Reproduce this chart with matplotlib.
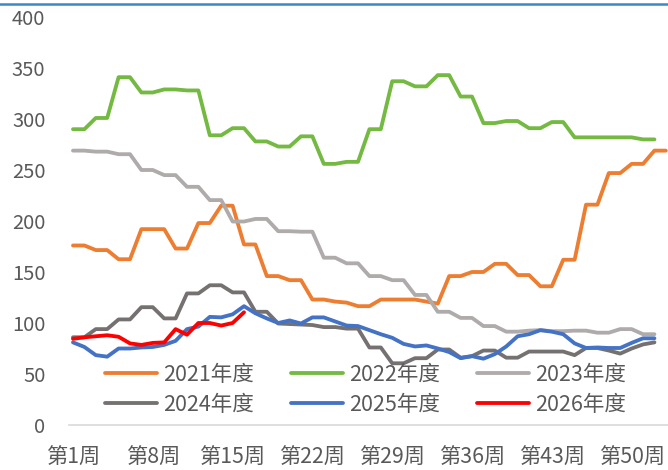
import matplotlib
matplotlib.use("Agg")
import matplotlib.pyplot as plt
from matplotlib.lines import Line2D
import numpy as np

plt.rcParams['font.family'] = ['Noto Sans CJK SC', 'DejaVu Sans']

# weekly values per season (2021 season has 53 weeks)
weeks = ["第%d周" % i for i in range(1, 54)]

y2021 = [176, 176, 171.5, 171.5, 162.5, 162.5, 192, 192, 192, 173,
         173, 198, 198, 215, 215, 177, 177, 146, 146, 142,
         142, 123, 123, 121, 120, 116.5, 116.5, 123, 123, 123,
         123, 121, 119, 146, 146, 150, 150, 158, 158, 147,
         147, 136, 136, 162, 162, 216, 216, 247, 247, 256,
         256, 269, 269]
y2022 = [290, 290, 301, 301, 341, 341, 326, 326, 329, 329,
         328, 328, 284, 284, 291, 291, 278, 278, 273, 273,
         283, 283, 256, 256, 258, 258, 290, 290, 337, 337,
         332, 332, 343, 343, 322, 322, 296, 296, 298, 298,
         291, 291, 297, 297, 282, 282, 282, 282, 282, 282,
         280, 280]
y2023 = [269, 269, 268, 268, 265.5, 265.5, 250, 250, 245, 245,
         233.5, 233.5, 220.5, 220.5, 199.5, 199.5, 202, 202, 190, 190,
         189.5, 189.5, 164, 164, 158.5, 158.5, 146, 146, 142, 142,
         127.5, 127.5, 111, 111, 105, 105, 97, 97, 91.5, 91.5,
         92.5, 93, 92, 92, 92.5, 92.5, 90.5, 90.5, 94, 94,
         89, 89]
y2024 = [86, 86, 94, 94, 103.5, 103.5, 115.5, 115.5, 104.5, 104.5,
         129, 129, 137, 137, 130, 130, 111, 111, 99.5, 99,
         98.5, 98, 96, 96, 94.5, 94.5, 76, 76, 60.5, 60.5,
         65.5, 65.5, 74, 74, 66, 67.5, 73, 73, 66, 66,
         72, 72, 72, 72, 68.5, 75.5, 75.5, 73, 70, 75,
         79, 81]
y2025 = [81, 76.5, 68.5, 67, 75, 75, 76, 76.5, 78.5, 82.5,
         94, 96.5, 106, 105.5, 108.5, 116.5, 109.5, 104.5, 100, 102.5,
         99.5, 105.5, 105.5, 101.5, 97.5, 97, 93, 89, 85.5, 79.5,
         77, 78, 75, 71.5, 65.5, 67.5, 65, 69.5, 77, 87,
         89, 93, 91.5, 89, 80, 75.5, 76, 75.5, 75.5, 80.5,
         85, 85]
y2026 = [84.5, 86, 87, 88, 86.5, 80, 78.5, 80.5, 81, 94,
         88.5, 100, 100, 97.5, 100, 110.5]

series = [
    ("2021年度", y2021, "#ED7D31"),
    ("2022年度", y2022, "#74BA42"),
    ("2023年度", y2023, "#AFABAB"),
    ("2024年度", y2024, "#767171"),
    ("2025年度", y2025, "#4472C4"),
    ("2026年度", y2026, "#FF0000"),
]

fig = plt.figure(figsize=(6.68, 4.70), dpi=100)
ax = fig.add_axes([69 / 668, 45 / 470, 599 / 668, 408 / 470])

lines = []
for name, vals, col in series:
    x = np.arange(1, len(vals) + 1)
    ln, = ax.plot(x, vals, color=col, lw=2.75, label=name,
                  solid_joinstyle="round", solid_capstyle="round")
    lines.append(ln)

ax.set_xlim(0.65, 53.19)
ax.set_ylim(0, 400)
ax.set_yticks(np.arange(0, 401, 50))
tick_pos = list(range(1, 53, 7))
ax.set_xticks(tick_pos)
ax.set_xticklabels([weeks[i - 1] for i in tick_pos])

for s in ["left", "top", "right"]:
    ax.spines[s].set_visible(False)
ax.spines["bottom"].set_color("#D9D9D9")
ax.spines["bottom"].set_linewidth(1.2)

ax.tick_params(axis="both", length=0, labelcolor="#595959")
ax.tick_params(axis="y", pad=17, labelsize=14.5)
ax.tick_params(axis="x", pad=15.5, labelsize=15.3)

# legend fills row by row: 2021 2022 2023 / 2024 2025 2026
order = [0, 3, 1, 4, 2, 5]
leg = fig.legend([lines[i] for i in order], [series[i][0] for i in order],
                 loc="upper left", bbox_to_anchor=(105 / 668, 1 - 364 / 470),
                 ncol=3, frameon=False, fontsize=15.5, handlelength=2.4,
                 handletextpad=0.28, columnspacing=1.75, labelspacing=0.35,
                 borderpad=0, borderaxespad=0)
for t in leg.get_texts():
    t.set_color("#595959")

# thin blue rule along the top edge
fig.add_artist(Line2D([0, 1], [1 - 3.5 / 470, 1 - 3.5 / 470],
                      transform=fig.transFigure, color="#3A88C9", lw=1.8))

fig.savefig("out.png", dpi=100)
